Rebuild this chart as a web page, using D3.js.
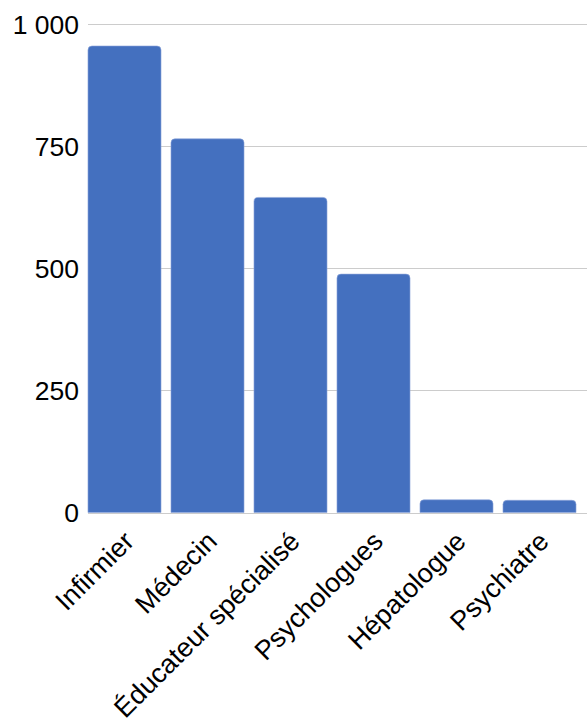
<!DOCTYPE html>
<html>
<head>
<meta charset="utf-8">
<script src="https://cdn.jsdelivr.net/npm/d3@7"></script>
<style>
  html, body { margin: 0; padding: 0; background: #ffffff; }
  svg { display: block; }
  text { font-family: "Liberation Sans", Arial, sans-serif; fill: #000; }
</style>
</head>
<body>
<svg id="chart" width="587" height="726"></svg>
<script>
// Professions and their counts
const categories = ["Infirmier", "Médecin", "Éducateur spécialisé", "Psychologues", "Hépatologue", "Psychiatre"];
const counts = [955, 765, 645, 488, 26, 25];
const yTicks = [0, 250, 500, 750, 1000];

const W = 587, H = 726;
const plot = { left: 88, right: 587, top: 24, bottom: 512.5 };

const svg = d3.select("#chart");

const x = d3.scaleBand()
  .domain(categories)
  .range([83, 581])
  .paddingInner(0.12)
  .paddingOuter(0.06);

const y = d3.scaleLinear()
  .domain([0, 1000])
  .range([plot.bottom, plot.top]);

const fr = d3.formatLocale({ decimal: ",", thousands: "\u00a0", grouping: [3], currency: ["", " €"] });
const fmt = fr.format(",d");

// horizontal gridlines
svg.append("g")
  .selectAll("line")
  .data(yTicks)
  .join("line")
  .attr("x1", plot.left)
  .attr("x2", plot.right)
  .attr("y1", d => Math.round(y(d)) + 0.5)
  .attr("y2", d => Math.round(y(d)) + 0.5)
  .attr("stroke", "#cccccc")
  .attr("stroke-width", 1);

// y tick labels
svg.append("g")
  .selectAll("text")
  .data(yTicks)
  .join("text")
  .attr("x", 79)
  .attr("y", d => y(d))
  .attr("dy", "0.36em")
  .attr("text-anchor", "end")
  .attr("font-size", 26.5)
  .text(d => fmt(d));

// bars with rounded top corners
const r = 4;
function barPath(d, i) {
  const x0 = x(categories[i]);
  const x1 = x0 + x.bandwidth();
  const yt = y(d);
  const yb = y(0);
  return `M${x0},${yb} V${yt + r} Q${x0},${yt} ${x0 + r},${yt} H${x1 - r} Q${x1},${yt} ${x1},${yt + r} V${yb} Z`;
}
svg.append("g")
  .selectAll("path")
  .data(counts)
  .join("path")
  .attr("d", barPath)
  .attr("fill", "#4470bf")
  .attr("stroke", "#8ea6da")
  .attr("stroke-width", 0.6);

// rotated category labels
svg.append("g")
  .selectAll("text")
  .data(categories)
  .join("text")
  .attr("text-anchor", "end")
  .attr("font-size", 27)
  .attr("transform", d => `translate(${x(d) + x.bandwidth() / 2 + 11},${543}) rotate(-45)`)
  .text(d => d);
</script>
</body>
</html>
